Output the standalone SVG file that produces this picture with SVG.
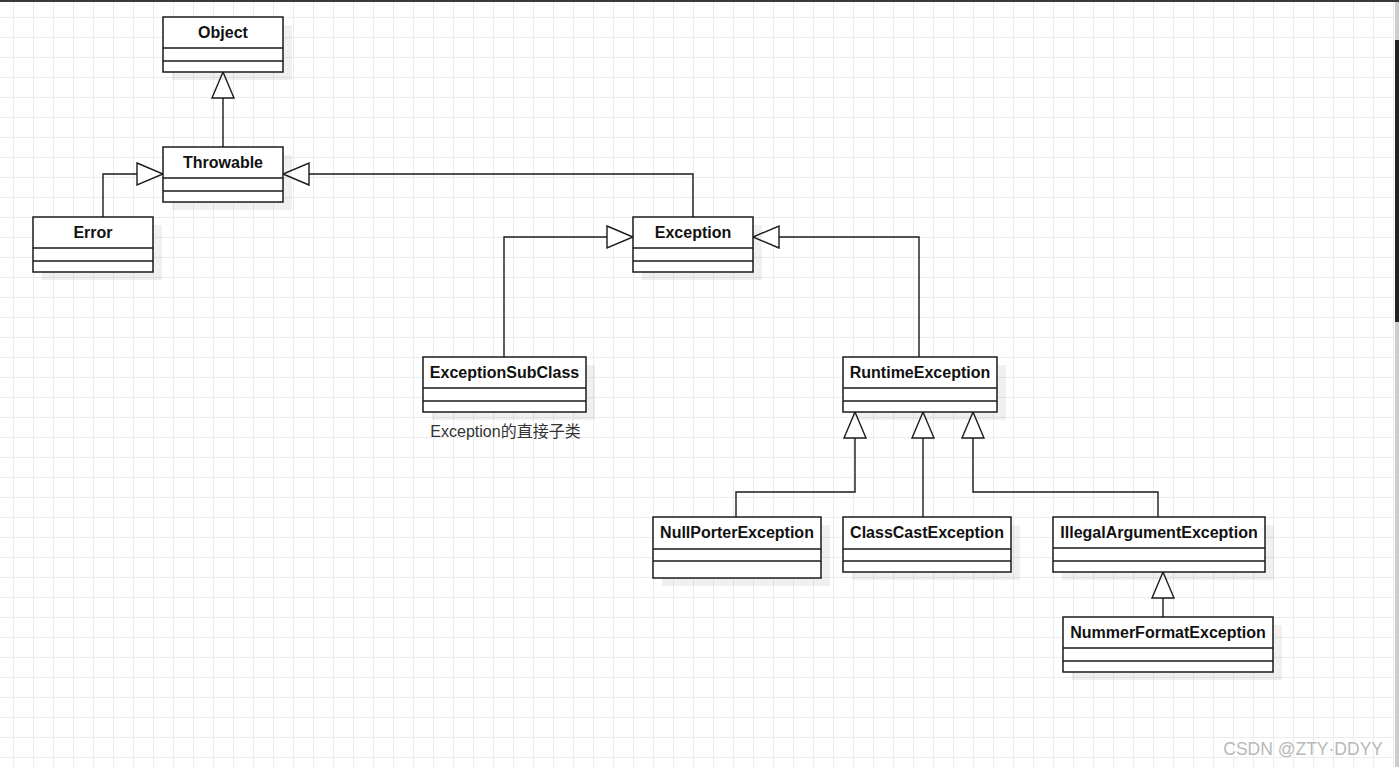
<svg xmlns="http://www.w3.org/2000/svg" width="1399" height="767" viewBox="0 0 1399 767">
<style>
.box{fill:#fff;stroke:#1a1a1a;stroke-width:1.5}
.sh{fill:#000;fill-opacity:0.06}
.sep{stroke:#1a1a1a;stroke-width:1.5;fill:none}
.t{font-family:"Liberation Sans",Arial,sans-serif;font-size:16px;font-weight:bold;fill:#111;text-anchor:middle}
.edge{fill:none;stroke:#1a1a1a;stroke-width:1.4}
.cap{font-family:"Liberation Sans",Arial,"Noto Sans CJK SC",sans-serif;font-size:16px;fill:#333;text-anchor:middle}
.wm{font-family:"Liberation Sans",Arial,sans-serif;font-size:17.5px;fill:#b8b8b8;text-anchor:end}
</style>
<defs>
<pattern id="grid" patternUnits="userSpaceOnUse" x="13" y="17" width="20" height="20">
<path d="M0.5 0V20M0 0.5H20" stroke="#ececec" stroke-width="1" fill="none"/>
</pattern>
<marker id="inh" markerUnits="userSpaceOnUse" markerWidth="30" markerHeight="26" refX="26" refY="11" orient="auto" overflow="visible">
<path d="M0,0 L26,11 L0,22 Z" fill="#fff" stroke="#1a1a1a" stroke-width="1.4"/>
</marker>
</defs>
<rect width="1399" height="767" fill="#fff"/>
<rect width="1395" height="767" fill="url(#grid)"/>
<rect x="0" y="0" width="1399" height="2" fill="#3a3a3a"/>
<rect x="1395" y="2" width="4" height="765" fill="#cdcdcd"/>
<rect x="1395" y="40" width="4" height="282" fill="#232323"/>

<g id="connectors">
<path class="edge" d="M223 147V72" marker-end="url(#inh)"/>
<path class="edge" d="M103 217V174H163" marker-end="url(#inh)"/>
<path class="edge" d="M693 217V174H283" marker-end="url(#inh)"/>
<path class="edge" d="M504 357V237H633" marker-end="url(#inh)"/>
<path class="edge" d="M919 357V237H753" marker-end="url(#inh)"/>
<path class="edge" d="M736 517V492H855V412" marker-end="url(#inh)"/>
<path class="edge" d="M923 517V412" marker-end="url(#inh)"/>
<path class="edge" d="M1158 517V492H973V412" marker-end="url(#inh)"/>
<path class="edge" d="M1163 617V572" marker-end="url(#inh)"/>
</g>

<g id="Object">
<rect class="sh" x="172" y="25" width="120" height="55"/>
<rect class="box" x="163" y="17" width="120" height="55"/>
<path class="sep" d="M163 48H283M163 61H283"/>
<text class="t" x="223" y="38">Object</text>
</g>
<g id="Throwable">
<rect class="sh" x="172" y="155" width="120" height="55"/>
<rect class="box" x="163" y="147" width="120" height="55"/>
<path class="sep" d="M163 178H283M163 191H283"/>
<text class="t" x="223" y="168">Throwable</text>
</g>
<g id="Error">
<rect class="sh" x="42" y="225" width="120" height="55"/>
<rect class="box" x="33" y="217" width="120" height="55"/>
<path class="sep" d="M33 248H153M33 261H153"/>
<text class="t" x="93" y="238">Error</text>
</g>
<g id="Exception">
<rect class="sh" x="642" y="225" width="120" height="55"/>
<rect class="box" x="633" y="217" width="120" height="55"/>
<path class="sep" d="M633 248H753M633 261H753"/>
<text class="t" x="693" y="238">Exception</text>
</g>
<g id="ExceptionSubClass">
<rect class="sh" x="432" y="365" width="163" height="55"/>
<rect class="box" x="423" y="357" width="163" height="55"/>
<path class="sep" d="M423 388H586M423 401H586"/>
<text class="t" x="504.5" y="378">ExceptionSubClass</text>
<text class="cap" x="505.5" y="437">Exception的直接子类</text>
</g>
<g id="RuntimeException">
<rect class="sh" x="852" y="365" width="154" height="55"/>
<rect class="box" x="843" y="357" width="154" height="55"/>
<path class="sep" d="M843 388H997M843 401H997"/>
<text class="t" x="920" y="378">RuntimeException</text>
</g>
<g id="NullPorterException">
<rect class="sh" x="662" y="525" width="168" height="61"/>
<rect class="box" x="653" y="517" width="168" height="61"/>
<path class="sep" d="M653 549H821M653 561H821"/>
<text class="t" x="737" y="538">NullPorterException</text>
</g>
<g id="ClassCastException">
<rect class="sh" x="852" y="525" width="168" height="55"/>
<rect class="box" x="843" y="517" width="168" height="55"/>
<path class="sep" d="M843 549H1011M843 561H1011"/>
<text class="t" x="927" y="538">ClassCastException</text>
</g>
<g id="IllegalArgumentException">
<rect class="sh" x="1062" y="525" width="212" height="55"/>
<rect class="box" x="1053" y="517" width="212" height="55"/>
<path class="sep" d="M1053 548H1265M1053 561H1265"/>
<text class="t" x="1159" y="538">IllegalArgumentException</text>
</g>
<g id="NummerFormatException">
<rect class="sh" x="1072" y="625" width="210" height="55"/>
<rect class="box" x="1063" y="617" width="210" height="55"/>
<path class="sep" d="M1063 648H1273M1063 661H1273"/>
<text class="t" x="1168" y="638">NummerFormatException</text>
</g>
<text class="wm" x="1383" y="755">CSDN @ZTY·DDYY</text>
</svg>
